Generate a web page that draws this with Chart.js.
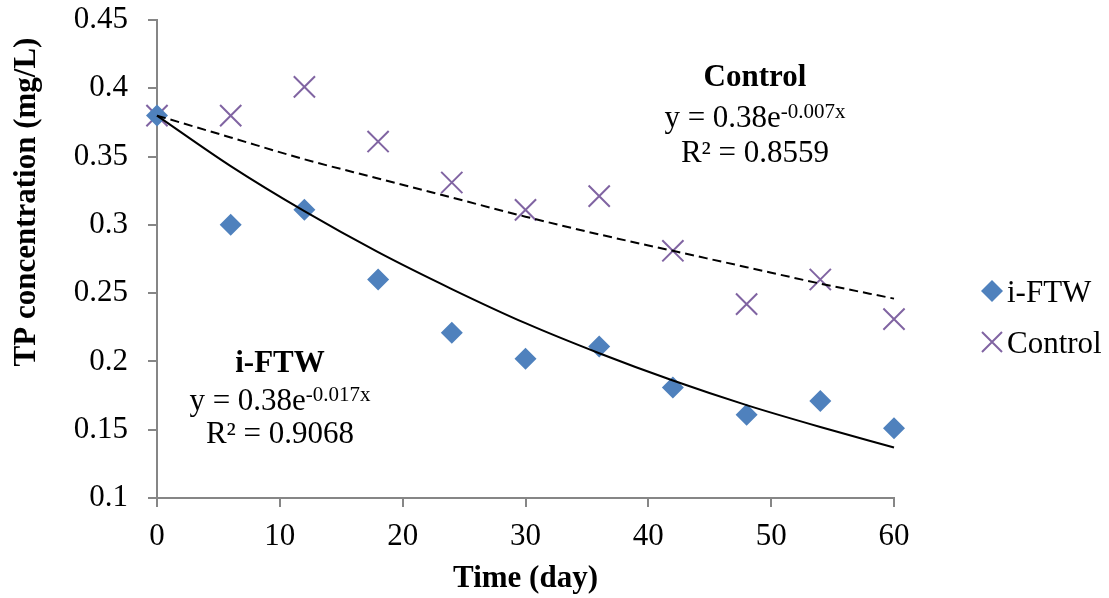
<!DOCTYPE html>
<html>
<head>
<meta charset="utf-8">
<script src="https://cdn.jsdelivr.net/npm/chart.js@4.4.1/dist/chart.umd.min.js"></script>
<style>
  body { margin: 0; background: #fff; }
  canvas { display: block; }
</style>
</head>
<body>
<canvas id="grafica" width="1109" height="598"></canvas>
<script>
// ----- datos -----
const days = [0, 6, 12, 18, 24, 30, 36, 42, 48, 54, 60];
const ftw = [0.38, 0.30, 0.311, 0.26, 0.221, 0.202, 0.211, 0.181, 0.161, 0.171, 0.151];
const control = [0.38, 0.38, 0.401, 0.361, 0.331, 0.311, 0.321, 0.281, 0.242, 0.26, 0.231];
const trendFtw = [0.38, 0.343, 0.31, 0.28, 0.253, 0.228, 0.206, 0.186, 0.168, 0.152, 0.137];
const trendControl = [0.38, 0.364, 0.348, 0.334, 0.32, 0.306, 0.293, 0.281, 0.269, 0.257, 0.246];
const yTicks = [0.1, 0.15, 0.2, 0.25, 0.3, 0.35, 0.4, 0.45];
const xTicks = [0, 10, 20, 30, 40, 50, 60];

const serif = "'Liberation Serif', 'Times New Roman', serif";
const blue = "#4F81BD";
const purple = "#8064A2";
const axisGray = "#868686";

const toPoints = (xs, ys) => xs.map((x, i) => ({ x: x, y: ys[i] }));

// texto con exponente: y = 0.38e^-0.017x
function drawEquation(ctx, cx, baseY, main, sup) {
  ctx.font = "31px " + serif;
  const w1 = ctx.measureText(main).width;
  ctx.font = "21px " + serif;
  const w2 = ctx.measureText(sup).width;
  const start = cx - (w1 + w2) / 2;
  ctx.textAlign = "left";
  ctx.font = "31px " + serif;
  ctx.fillText(main, start, baseY);
  ctx.font = "21px " + serif;
  ctx.fillText(sup, start + w1, baseY - 9);
}

const textos = {
  id: "textos",
  afterDraw(chart) {
    const ctx = chart.ctx;
    ctx.save();
    ctx.fillStyle = "#000";
    ctx.textBaseline = "alphabetic";

    // titulo eje y
    ctx.save();
    ctx.translate(27, 202);
    ctx.rotate(-Math.PI / 2);
    ctx.textAlign = "center";
    ctx.textBaseline = "middle";
    ctx.font = "bold 31px " + serif;
    ctx.fillText("TP concentration (mg/L)", 0, 0);
    ctx.restore();

    // ecuaciones
    ctx.textAlign = "center";
    ctx.font = "bold 31px " + serif;
    ctx.fillText("Control", 755, 86);
    drawEquation(ctx, 755, 127, "y = 0.38e", "-0.007x");
    ctx.textAlign = "center";
    ctx.font = "31px " + serif;
    ctx.fillText("R² = 0.8559", 755, 162);

    ctx.font = "bold 31px " + serif;
    ctx.fillText("i-FTW", 280, 372);
    drawEquation(ctx, 280, 410, "y = 0.38e", "-0.017x");
    ctx.textAlign = "center";
    ctx.font = "31px " + serif;
    ctx.fillText("R² = 0.9068", 280, 443);

    // leyenda
    ctx.fillStyle = blue;
    ctx.beginPath();
    ctx.moveTo(992, 280);
    ctx.lineTo(1003, 291);
    ctx.lineTo(992, 302);
    ctx.lineTo(981, 291);
    ctx.closePath();
    ctx.fill();
    ctx.strokeStyle = purple;
    ctx.lineWidth = 2;
    ctx.beginPath();
    ctx.moveTo(982, 332); ctx.lineTo(1002, 352);
    ctx.moveTo(1002, 332); ctx.lineTo(982, 352);
    ctx.stroke();
    ctx.fillStyle = "#000";
    ctx.textAlign = "left";
    ctx.font = "31px " + serif;
    ctx.fillText("i-FTW", 1007, 302);
    ctx.fillText("Control", 1007, 353);
    ctx.restore();
  },
};

const chart1 = document.getElementById("grafica");
const myChart = new Chart(chart1, {
  type: "scatter",
  data: {
    datasets: [
      {
        label: "trend i-FTW",
        data: toPoints(days, trendFtw),
        showLine: true,
        borderColor: "#000",
        borderWidth: 2,
        pointRadius: 0,
        cubicInterpolationMode: "monotone",
        clip: false,
        order: 0,
      },
      {
        label: "trend Control",
        data: toPoints(days, trendControl),
        showLine: true,
        borderColor: "#000",
        borderWidth: 2,
        borderDash: [9, 5],
        pointRadius: 0,
        cubicInterpolationMode: "monotone",
        clip: false,
        order: 0,
      },
      {
        label: "i-FTW",
        data: toPoints(days, ftw),
        pointStyle: "rectRot",
        pointRadius: 11,
        backgroundColor: blue,
        borderColor: blue,
        borderWidth: 0,
        clip: false,
        order: 1,
      },
      {
        label: "Control",
        data: toPoints(days, control),
        pointStyle: "crossRot",
        pointRadius: 15,
        borderColor: purple,
        backgroundColor: purple,
        borderWidth: 2,
        clip: false,
        order: 1,
      },
    ],
  },
  options: {
    responsive: false,
    animation: false,
    devicePixelRatio: 1,
    layout: { padding: { top: 20, right: 215, bottom: 0, left: 0 } },
    plugins: {
      legend: { display: false },
      tooltip: { enabled: false },
    },
    scales: {
      x: {
        type: "linear",
        min: 0,
        max: 60,
        afterBuildTicks: (scale) => {
          scale.ticks = xTicks.map((v) => ({ value: v }));
        },
        afterFit: (scale) => {
          scale.height = 100;
          scale.paddingLeft = 0;
          scale.paddingRight = 0;
        },
        grid: {
          drawOnChartArea: false,
          drawTicks: true,
          tickLength: 9,
          color: axisGray,
          lineWidth: 2,
        },
        border: { color: axisGray, width: 2 },
        ticks: {
          color: "#000",
          padding: 11,
          maxRotation: 0,
          font: { family: serif, size: 31 },
        },
        title: {
          display: true,
          text: "Time (day)",
          color: "#000",
          padding: { top: 1, bottom: 0 },
          font: { family: serif, size: 31, weight: "bold" },
        },
      },
      y: {
        type: "linear",
        min: 0.1,
        max: 0.45,
        afterBuildTicks: (scale) => {
          scale.ticks = yTicks.map((v) => ({ value: v }));
        },
        afterFit: (scale) => {
          scale.width = 157;
          scale.paddingTop = 0;
          scale.paddingBottom = 0;
        },
        grid: {
          drawOnChartArea: false,
          drawTicks: true,
          tickLength: 9,
          color: axisGray,
          lineWidth: 2,
        },
        border: { color: axisGray, width: 2 },
        ticks: {
          color: "#000",
          padding: 20,
          font: { family: serif, size: 31 },
          callback: (v) => String(Number(v.toFixed(2))),
        },
      },
    },
  },
  plugins: [textos],
});
</script>
</body>
</html>
